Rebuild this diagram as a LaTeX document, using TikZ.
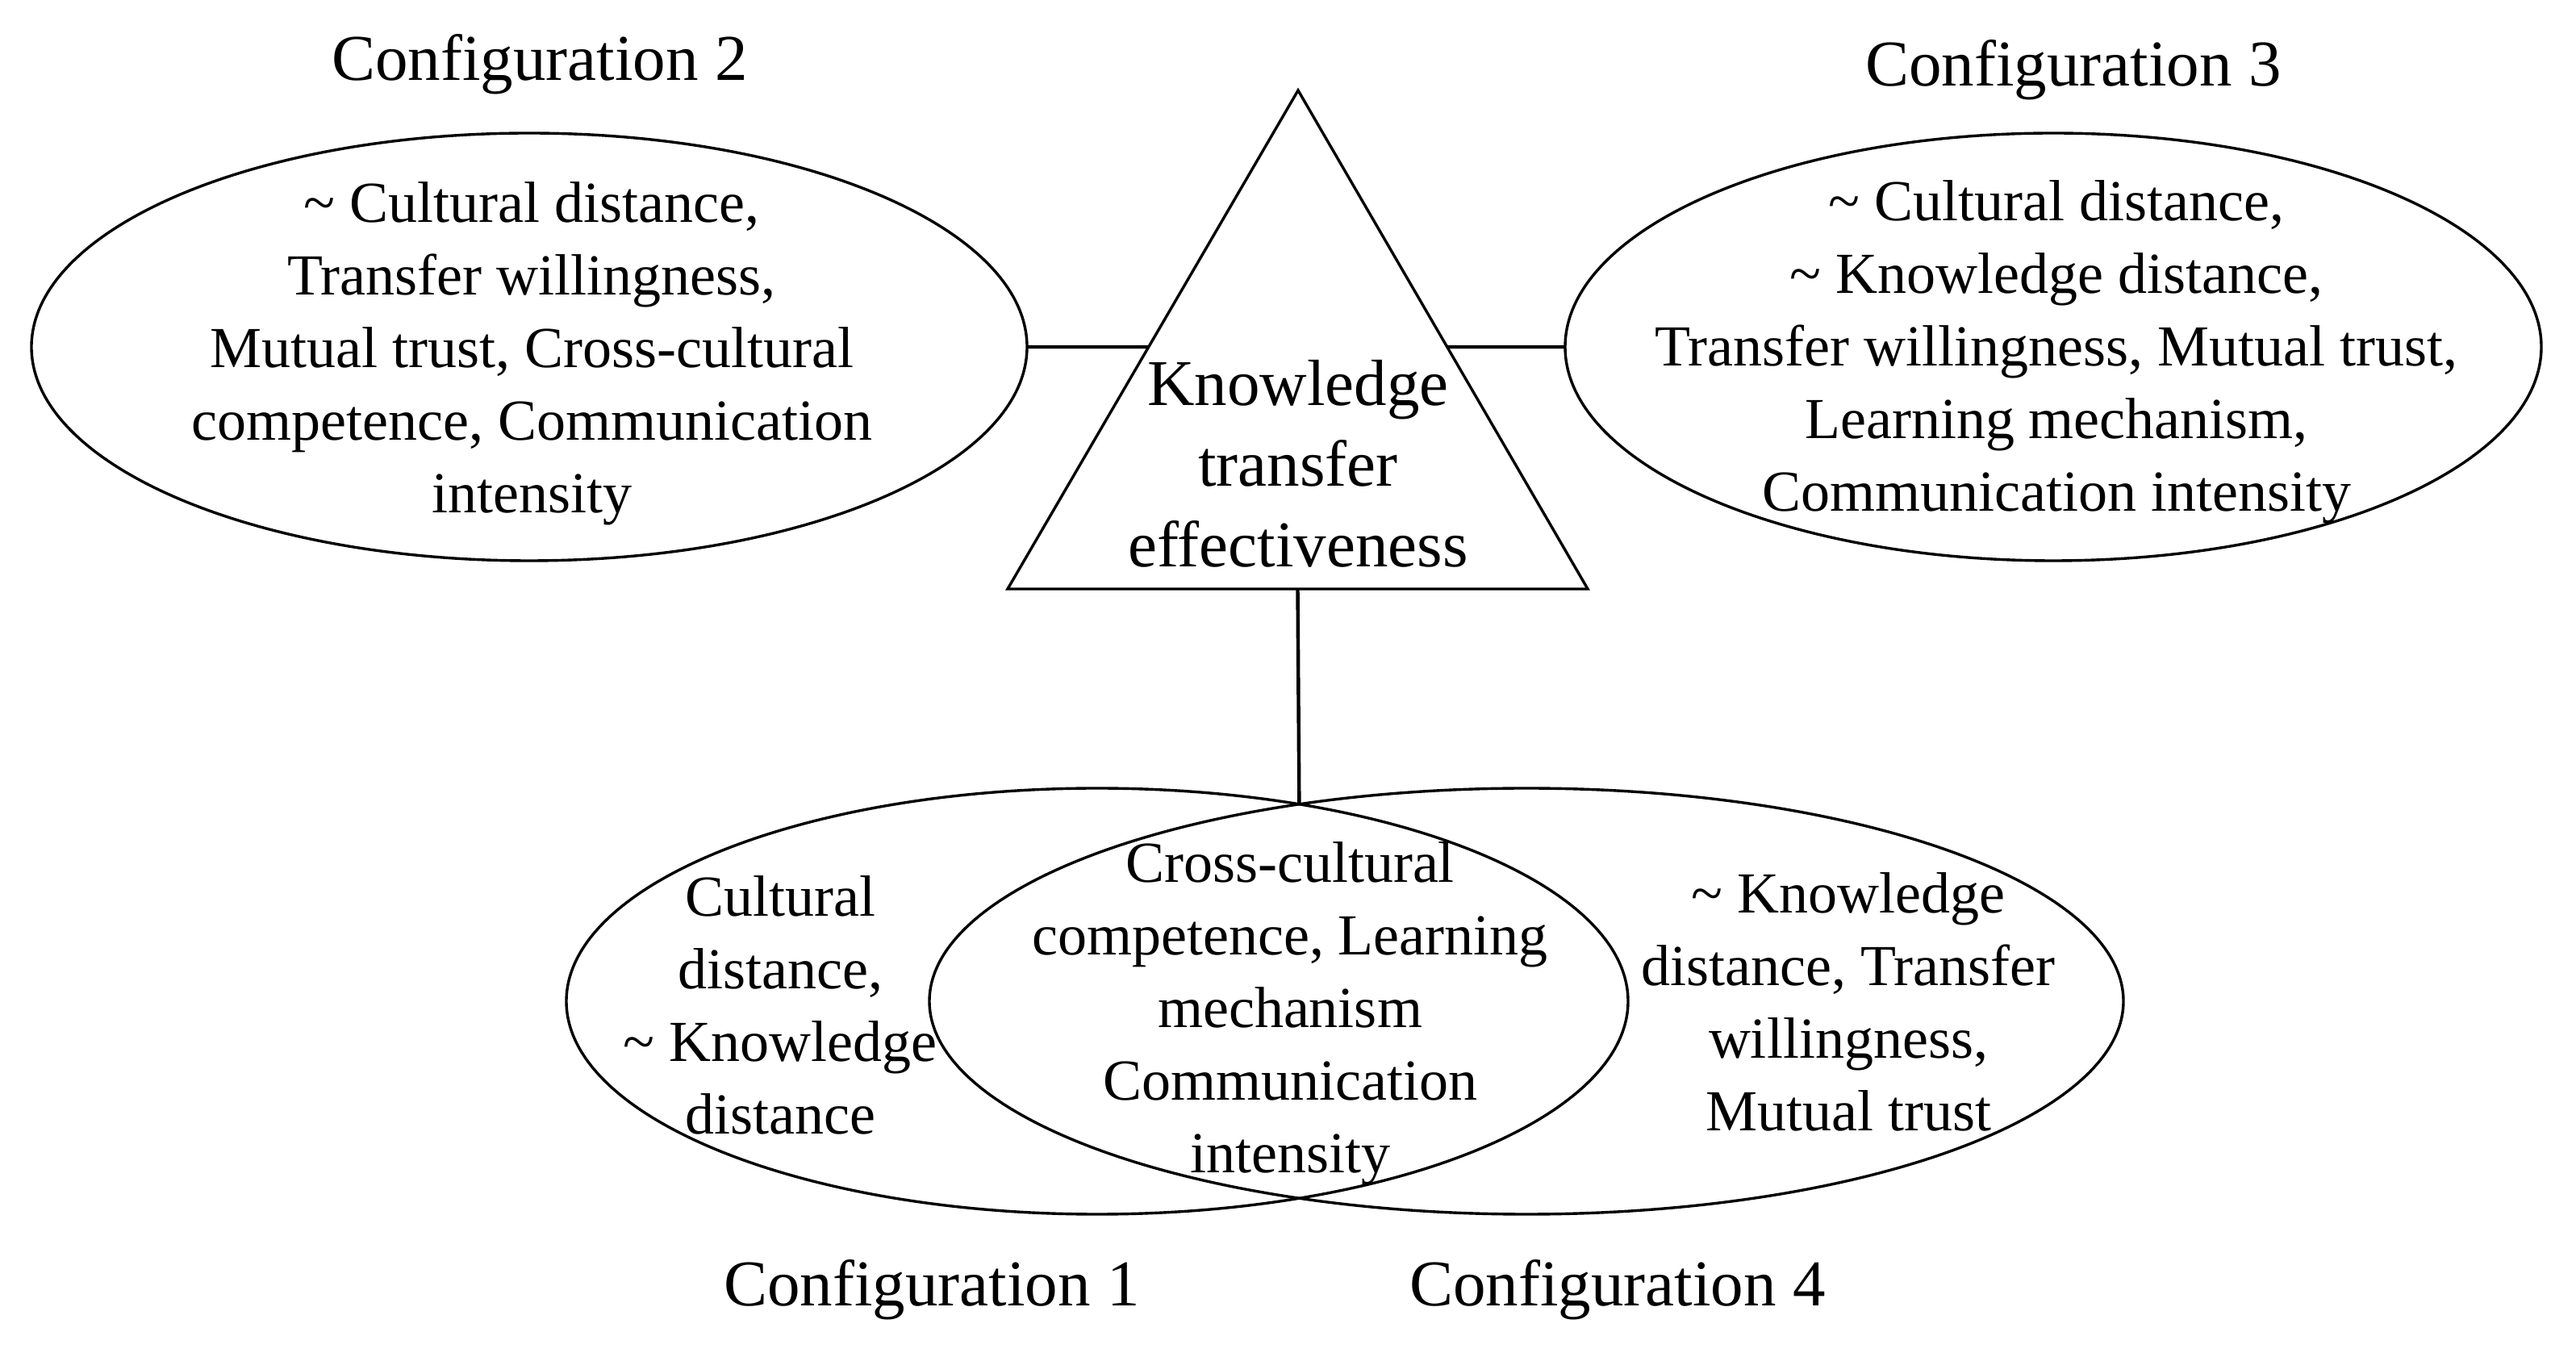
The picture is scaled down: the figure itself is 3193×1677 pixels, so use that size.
\documentclass[tikz,border=0pt]{standalone}
\usepackage{fontspec}
\setmainfont{Liberation Serif}
\usetikzlibrary{shapes.geometric,calc}
\begin{document}
\begin{tikzpicture}[x=0.25pt,y=-0.25pt,
  shapeline/.style={draw=black,line width=0.85pt},
  oval/.style={shapeline,ellipse,inner sep=0pt,outer sep=0pt},
  txt/.style={align=center,font=\fontsize{18}{22.5}\selectfont,inner sep=0pt},
  bigtxt/.style={align=center,font=\fontsize{20.25}{25}\selectfont,inner sep=0pt},
  cfg/.style={anchor=base,font=\fontsize{20.25}{25}\selectfont,inner sep=0pt},
  link/.style={draw=black,line width=1.1pt}]
\useasboundingbox (0,0) rectangle (3193,1677);
% ellipses
\node[oval,minimum width=308.5pt,minimum height=132.5pt] (c2) at (656,430) {};
\node[oval,minimum width=302.5pt,minimum height=132.5pt] (c3) at (2545,430) {};
\node[oval,minimum width=329pt,minimum height=132pt] (c1) at (1360,1241) {};
\node[oval,minimum width=370pt,minimum height=132pt] (c4) at (1892,1241) {};
% triangle
\coordinate (apex) at (1609,112);
\coordinate (bl) at (1249,730);
\coordinate (br) at (1968,730);
\draw[shapeline] (apex) -- (bl) -- (br) -- cycle;
\node[bigtxt] (kte) at (1609,575) {Knowledge\\transfer\\effectiveness};
% connectors
\coordinate (tl) at ($(apex)!0.5146!(bl)$);
\coordinate (tr) at ($(apex)!0.5146!(br)$);
\coordinate (tb) at ($(bl)!0.5!(br)$);
\coordinate (x14) at (1610.4,997);
\draw[link] (c2.east) -- (tl);
\draw[link] (tr) -- (c3.west);
\draw[link] (tb) -- (x14);
% texts
\node[txt] (t2) at (659,438) {\textasciitilde{} Cultural distance,\\Transfer willingness,\\Mutual trust, Cross-cultural\\competence, Communication\\intensity};
\node[txt] (t3) at (2549,436) {\textasciitilde{} Cultural distance,\\\textasciitilde{} Knowledge distance,\\Transfer willingness, Mutual trust,\\Learning mechanism,\\Communication intensity};
\node[txt] (t1) at (967,1246) {Cultural\\distance,\\\textasciitilde{} Knowledge\\distance};
\node[txt] (t14) at (1599,1256) {Cross-cultural\\competence, Learning\\mechanism\\Communication\\intensity};
\node[txt] (t4) at (2291,1242) {\textasciitilde{} Knowledge\\distance, Transfer\\willingness,\\Mutual trust};
% labels
\node[cfg] (l2) at (669,100) {Configuration 2};
\node[cfg] (l3) at (2570,107) {Configuration 3};
\node[cfg] (l1) at (1155,1618) {Configuration 1};
\node[cfg] (l4) at (2005,1618) {Configuration 4};
\end{tikzpicture}
\end{document}
